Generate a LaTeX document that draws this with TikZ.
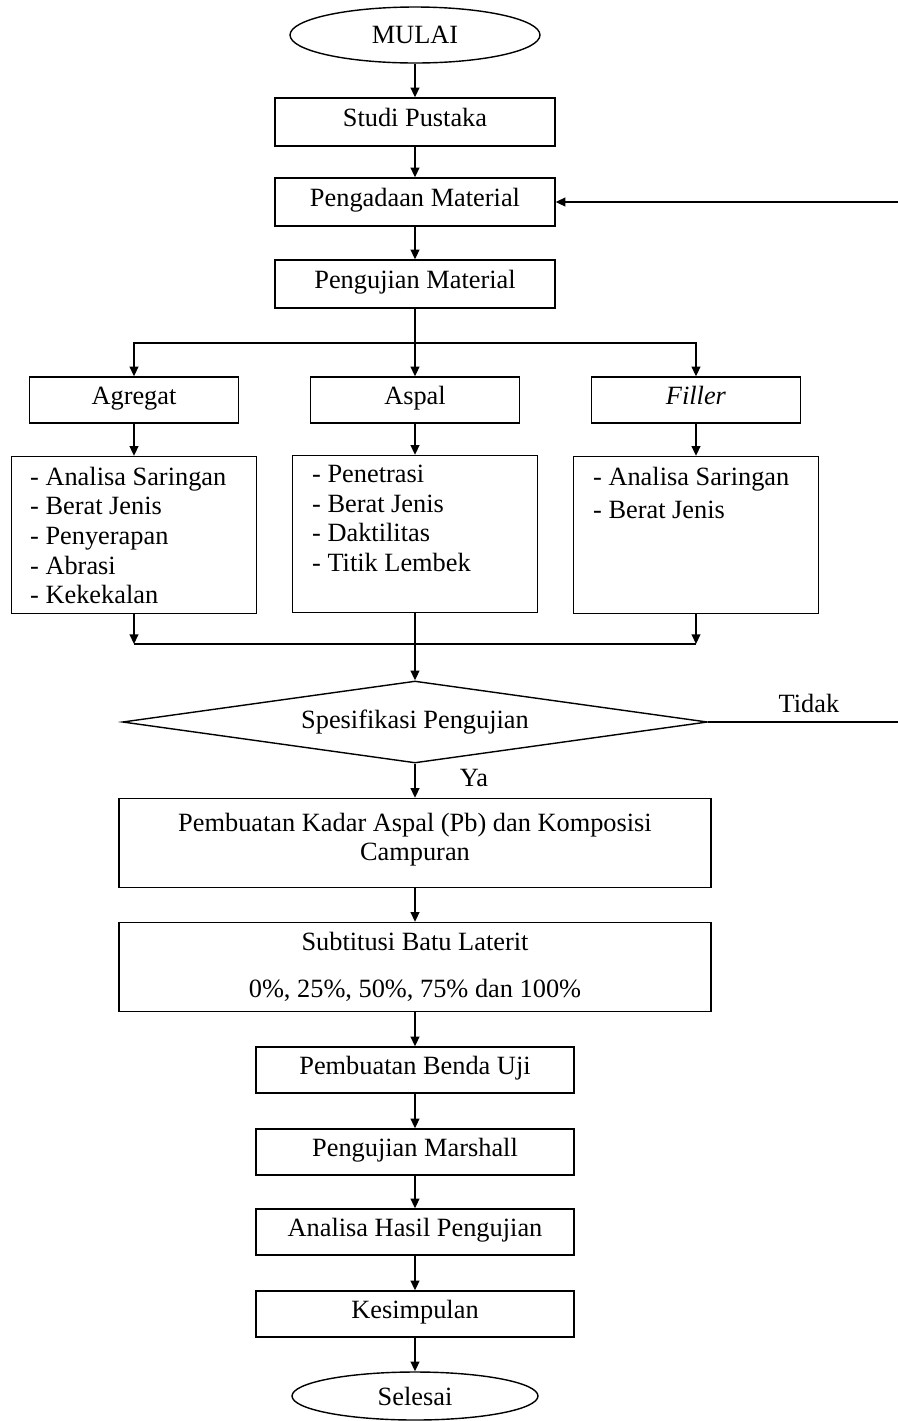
\documentclass[tikz,border=0pt]{standalone}
\usepackage{fontspec}
\setmainfont{Liberation Serif}
\usepackage{tikz}
\usetikzlibrary{positioning,arrows.meta,shapes.geometric}
\tikzset{
  term-node/.style={draw, ellipse, line width=0.8pt, minimum width=5cm,
    minimum height=1.12cm, inner sep=1pt},
  step-box/.style={draw, line width=0.8pt, minimum width=5.6cm,
    minimum height=0.96cm, align=center, inner sep=2pt,
    text height=1.6ex, text depth=0.5ex},
  group-box/.style={draw, line width=0.8pt, minimum width=4.18cm,
    minimum height=0.92cm, align=center, inner sep=2pt,
    text height=1.6ex, text depth=0.5ex},
  list-box/.style={draw, line width=0.8pt, minimum width=4.9cm,
    minimum height=3.14cm, inner sep=0pt},
  list-text/.style={anchor=north west, align=left, inner sep=0pt},
  decision-node/.style={draw, diamond, aspect=7.1, line width=0.8pt,
    minimum width=11.7cm, minimum height=1.64cm, inner sep=0pt},
  wide-box/.style={draw, line width=0.8pt, minimum width=11.84cm,
    minimum height=1.78cm, align=center, inner sep=2pt},
  small-box/.style={draw, line width=0.8pt, minimum width=6.36cm,
    minimum height=0.92cm, align=center, inner sep=2pt,
    text height=1.6ex, text depth=0.5ex},
  flow-arrow/.style={-{Triangle[length=5.5pt,width=5pt]}, line width=0.8pt},
  flow-line/.style={line width=0.8pt}
}

\begin{document}
\begin{tikzpicture}[x=0.02cm, y=-0.02cm, font=\fontsize{15}{16.8}\selectfont]
\useasboundingbox (0,0) rectangle (897,1421);
% main column, top part
\node[term-node] (mulai) at (415,35) {MULAI};
\node[step-box] (studi) at (415,122) {Studi Pustaka};
\node[step-box] (pengadaan) at (415,202) {Pengadaan Material};
\node[step-box] (pengmat) at (415,284) {Pengujian Material};
% three materials
\node[group-box] (agregat) at (134,400) {Agregat};
\node[group-box] (aspal) at (415,400) {Aspal};
\node[group-box] (filler) at (696,400) {\textit{Filler}};
\node[list-box] (agrlist) at (134,535) {};
\node[list-box] (asplist) at (415,534) {};
\node[list-box] (fillist) at (696,535) {};
\node[list-text] (agrtext) at ([shift={(19,11)}]agrlist.north west)
  {- Analisa Saringan\\- Berat Jenis\\- Penyerapan\\- Abrasi\\- Kekekalan};
\node[list-text] (asptext) at ([shift={(20,10)}]asplist.north west)
  {- Penetrasi\\- Berat Jenis\\- Daktilitas\\- Titik Lembek};
\node[list-text] (filtext) at ([shift={(20,11)}]fillist.north west)
  {- Analisa Saringan\\[2pt]- Berat Jenis};
% decision and the rest
\node[decision-node] (spek) at (415,722) {Spesifikasi Pengujian};
\node[wide-box] (kadar) at (415,843) {Pembuatan Kadar Aspal (Pb) dan Komposisi\\Campuran\\[-10pt]\mbox{}};
\node[wide-box] (subtitusi) at (415,967) {Subtitusi Batu Laterit\\[10pt]0\%, 25\%, 50\%, 75\% dan 100\%};
\node[small-box] (benda) at (415,1070) {Pembuatan Benda Uji};
\node[small-box] (marshall) at (415,1152) {Pengujian Marshall};
\node[small-box] (analisa) at (415,1232) {Analisa Hasil Pengujian};
\node[small-box] (kesimpulan) at (415,1314) {Kesimpulan};
\node[term-node, minimum width=4.92cm, minimum height=0.96cm] (selesai) at (415,1396) {Selesai};
\node (ya) at (474,778) {Ya};
\node (tidak) at (809,703) {Tidak};
% connectors
\coordinate (split) at (415,343);
\coordinate (merge) at (415,644);
\coordinate (loop) at (903,722);
\draw[flow-arrow] (mulai) -- (studi);
\draw[flow-arrow] (studi) -- (pengadaan);
\draw[flow-arrow] (pengadaan) -- (pengmat);
\draw[flow-arrow] (pengmat) -- (aspal);
\draw[flow-arrow] (split) -| (agregat);
\draw[flow-arrow] (split) -| (filler);
\draw[flow-arrow] (agregat) -- (agrlist);
\draw[flow-arrow] (aspal) -- (asplist);
\draw[flow-arrow] (filler) -- (fillist);
\draw[flow-arrow] (agrlist.south) -- (agrlist.south |- merge);
\draw[flow-arrow] (fillist.south) -- (fillist.south |- merge);
\draw[flow-line] (agrlist.south |- merge) -- (fillist.south |- merge);
\draw[flow-arrow] (asplist) -- (spek);
\draw[flow-arrow] (spek.east) -- (loop) |- (pengadaan.east);
\draw[flow-arrow] (spek) -- (kadar);
\draw[flow-arrow] (kadar) -- (subtitusi);
\draw[flow-arrow] (subtitusi) -- (benda);
\draw[flow-arrow] (benda) -- (marshall);
\draw[flow-arrow] (marshall) -- (analisa);
\draw[flow-arrow] (analisa) -- (kesimpulan);
\draw[flow-arrow] (kesimpulan) -- (selesai);
\end{tikzpicture}
\end{document}
